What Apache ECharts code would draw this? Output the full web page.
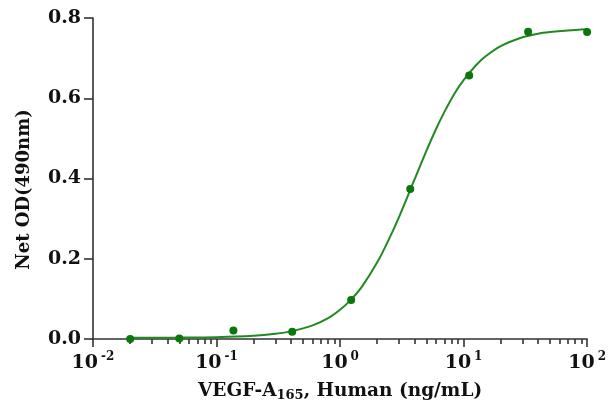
<!DOCTYPE html>
<html>
<head>
<meta charset="utf-8">
<script src="https://cdn.jsdelivr.net/npm/echarts@6/dist/echarts.min.js"></script>
<style>html,body{margin:0;padding:0;background:#fff}#c{width:609px;height:417px}</style>
</head>
<body>
<div id="c"></div>
<script>
// measured points (concentration ng/mL, Net OD)
var concentrations = [0.02, 0.05, 0.137, 0.41, 1.23, 3.7, 11.1, 33.3, 100];
var netOD = [0.000, 0.001, 0.021, 0.018, 0.097, 0.374, 0.657, 0.766, 0.765];
// fitted curve
var curveX = [0.02, 0.05, 0.1, 0.2, 0.3, 0.4, 0.6, 0.8, 1.0, 1.2, 1.5, 2, 2.5, 3, 4, 5, 6, 7, 8.5, 10, 12.5, 15, 20, 30, 40, 50, 70, 100];
var curveY = [0.003, 0.0035, 0.0045, 0.008, 0.013, 0.019, 0.034, 0.052, 0.073, 0.095, 0.130, 0.191, 0.250, 0.304, 0.397, 0.469, 0.524, 0.566, 0.613, 0.645, 0.681, 0.704, 0.730, 0.752, 0.761, 0.765, 0.769, 0.772];
var yTicks = [0, 0.2, 0.4, 0.6, 0.8];

var minorTickValues = [];
for (var k = -2; k < 2; k++) {
  for (var m = 2; m <= 9; m++) minorTickValues.push(+(m * Math.pow(10, k)).toPrecision(3));
}

var green = '#087808';
var axisColor = '#333';
var font = 'DejaVu Serif';

var chart = echarts.init(document.getElementById('c'), null, {renderer: 'canvas'});
chart.setOption({
  animation: false,
  grid: {left: 93, right: 20, top: 18, bottom: 78},
  xAxis: [{
    type: 'log', logBase: 10, min: 0.01, max: 100,
    axisLine: {lineStyle: {color: axisColor, width: 1.6}},
    axisTick: {length: 8, lineStyle: {color: axisColor, width: 1.6}},
    splitLine: {show: false},
    axisLabel: {
      margin: 12,
      formatter: function (v) {
        var e = Math.round(Math.log10(v));
        return '{b|10}{s|' + (e < 0 ? '-' : '') + Math.abs(e) + '}';
      },
      rich: {
        b: {fontFamily: font, fontWeight: 'bold', fontSize: 19, color: '#111', lineHeight: 22, verticalAlign: 'bottom'},
        s: {fontFamily: font, fontWeight: 'bold', fontSize: 12, color: '#111', lineHeight: 13, verticalAlign: 'top', padding: [0, 0, 0, 3]}
      }
    },
    name: 'VEGF-A{sub|165}, Human (ng/mL)',
    nameLocation: 'middle', nameGap: 42,
    nameTextStyle: {
      fontFamily: font, fontWeight: 'bold', fontSize: 18.5, color: '#111',
      rich: {
        sub: {fontFamily: font, fontWeight: 'bold', fontSize: 13, color: '#111', verticalAlign: 'bottom', padding: [8, 0, 0, 0]}
      }
    }
  }, {
    type: 'log', logBase: 10, min: 0.01, max: 100, position: 'bottom',
    axisLine: {show: false},
    axisTick: {show: true, length: 5, lineStyle: {color: axisColor, width: 1.6}, customValues: minorTickValues},
    axisLabel: {show: false},
    splitLine: {show: false}
  }],
  yAxis: {
    type: 'value', min: 0, max: 0.8, interval: 0.2,
    axisLine: {show: true, lineStyle: {color: axisColor, width: 1.6}},
    axisTick: {show: true, length: 9, lineStyle: {color: axisColor, width: 1.6}},
    splitLine: {show: false},
    axisLabel: {
      margin: 12, fontFamily: font, fontWeight: 'bold', fontSize: 19, color: '#111',
      formatter: function (v) { return v.toFixed(1); }
    },
    name: 'Net OD(490nm)', nameLocation: 'middle', nameGap: 60,
    nameTextStyle: {fontFamily: font, fontWeight: 'bold', fontSize: 18, color: '#111', padding: [0, 22, 0, 0]}
  },
  series: [{
    type: 'line', smooth: 0.3, showSymbol: false,
    data: curveX.map(function (x, i) { return [x, curveY[i]]; }),
    lineStyle: {color: '#228822', width: 2},
    z: 2
  }, {
    type: 'scatter', symbolSize: 8,
    data: concentrations.map(function (x, i) { return [x, netOD[i]]; }),
    itemStyle: {color: green, opacity: 1},
    z: 3
  }]
});
</script>
</body>
</html>
